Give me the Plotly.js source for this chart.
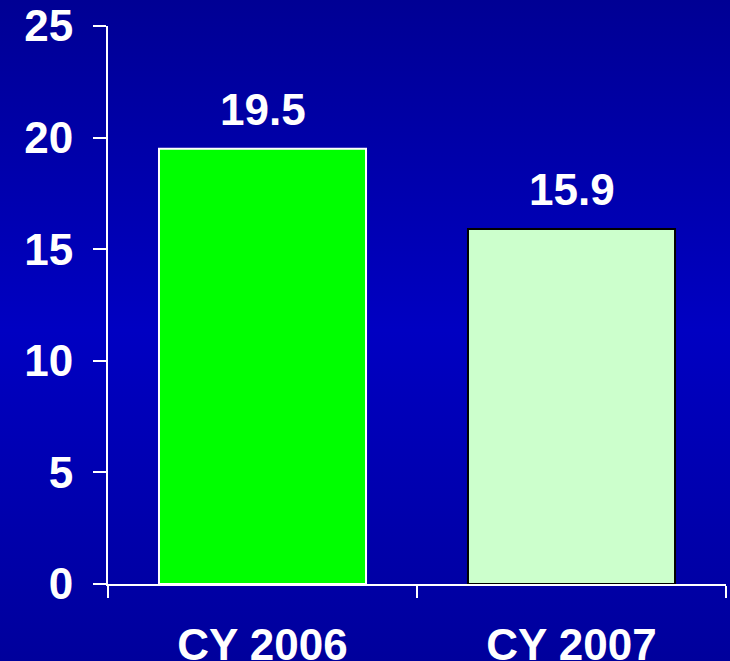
<!DOCTYPE html>
<html>
<head>
<meta charset="utf-8">
<script src="https://cdn.plot.ly/plotly-3.0.1.min.js"></script>
<style>
  html, body { margin: 0; padding: 0; }
  #plot {
    width: 730px; height: 661px;
    background: linear-gradient(to bottom, #000094 0%, #0000C2 50%, #00009C 100%);
  }
</style>
</head>
<body>
<div id="plot"></div>
<script>
// calendar years and values
var years = ["CY 2006", "CY 2007"];
var values = [19.5, 15.9];
var barColors = ["#00FF00", "#CCFFCC"];
var edgeColors = ["#FFFFFF", "#000000"];

var font = "Liberation Sans, Arial, sans-serif";

var trace = {
  type: "bar",
  x: years,
  y: values,
  marker: {
    color: barColors,
    line: { color: edgeColors, width: 2 }
  },
  hoverinfo: "none"
};

// value labels above the bars
var labels = years.map(function (yr, i) {
  return {
    x: yr,
    y: values[i],
    text: values[i].toFixed(1),
    showarrow: false,
    yanchor: "bottom",
    yshift: 13,
    font: { family: font, size: 44, color: "#FFFFFF", weight: "bold" }
  };
});

var layout = {
  width: 730,
  height: 661,
  margin: { l: 108, r: 4, t: 26, b: 77 },
  paper_bgcolor: "rgba(0,0,0,0)",
  plot_bgcolor: "rgba(0,0,0,0)",
  showlegend: false,
  bargap: 0.33,
  xaxis: {
    type: "category",
    range: [-0.5, 1.5],
    showline: true,
    linecolor: "#FFFFFF",
    linewidth: 2,
    ticks: "outside",
    tickson: "boundaries",
    ticklen: 12,
    tickwidth: 2,
    tickcolor: "#FFFFFF",
    ticklabelstandoff: 21,
    showgrid: false,
    zeroline: false,
    tickfont: { family: font, size: 44, color: "#FFFFFF", weight: "bold" }
  },
  yaxis: {
    range: [0, 25],
    dtick: 5,
    tick0: 0,
    showline: true,
    linecolor: "#FFFFFF",
    linewidth: 2,
    ticks: "outside",
    ticklen: 13,
    tickwidth: 2,
    tickcolor: "#FFFFFF",
    ticklabelstandoff: 11,
    showgrid: false,
    zeroline: false,
    tickfont: { family: font, size: 44, color: "#FFFFFF", weight: "bold" }
  },
  annotations: labels
};

Plotly.newPlot("plot", [trace], layout, { displayModeBar: false, staticPlot: true });
</script>
</body>
</html>
